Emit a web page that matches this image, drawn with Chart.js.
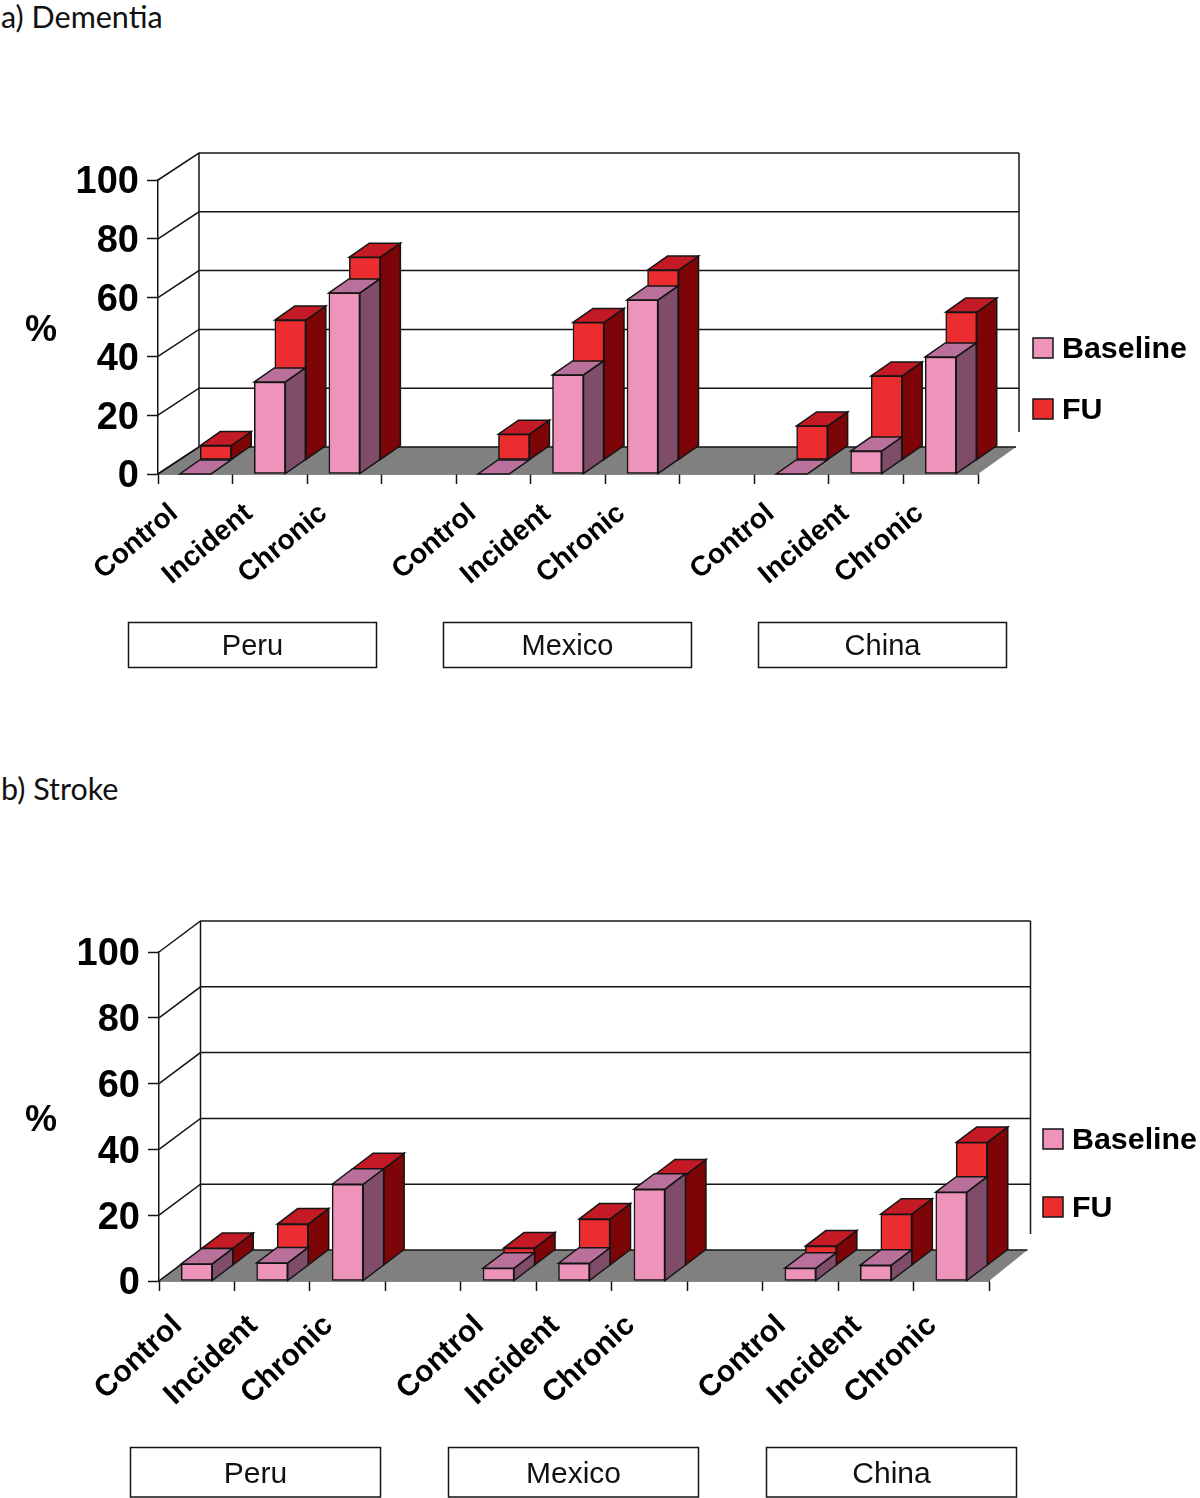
<!DOCTYPE html>
<html><head><meta charset="utf-8">
<script src="https://cdn.jsdelivr.net/npm/chart.js@4"></script>
<style>
html,body{margin:0;padding:0;background:#fff;width:1200px;height:1498px;overflow:hidden}
canvas{position:absolute;left:0;display:block}
.t{position:absolute;left:1px;font:30.5px Lato,sans-serif;color:#111;white-space:nowrap;line-height:34px}
</style></head><body>
<div class="t" style="top:-1px">a) Dementia</div>
<div class="t" style="top:771px">b) Stroke</div>
<canvas id="c1" width="1200" height="720" style="top:0"></canvas>
<canvas id="c2" width="1200" height="728" style="top:770px"></canvas>
<script>
const categories = ['Control','Incident','Chronic','','Control','Incident','Chronic','','Control','Incident','Chronic'];
const groups = ['Peru','Mexico','China'];
const seriesNames = ['Baseline','FU'];
const yTicks = [0,20,40,60,80,100];
const dementiaBaseline = [0,31.3,61.6,null,0,33.7,59.2,null,0,7.8,39.8];
const dementiaFU       = [4.9,47.6,69,null,8.8,46.8,64.6,null,11.6,28.6,50.3];
const strokeBaseline   = [5.2,5.5,29.4,null,3.9,5.4,27.9,null,3.9,4.8,27];
const strokeFU         = [5.2,12.6,29.4,null,5.3,14.1,27.5,null,5.9,15.6,37.4];

const INK='#141414';
const LW=1.5;
const colours={
  Baseline:{front:'#EE94BA',top:'#B9719B',side:'#7F4D69'},
  FU:{front:'#EC2D2F',top:'#C41A25',side:'#7D0508'}
};
Chart.defaults.font.family='"Liberation Sans", Arial, sans-serif';

function poly(ctx,pts,fill,stroke){
  ctx.beginPath();pts.forEach((p,i)=>i?ctx.lineTo(p[0],p[1]):ctx.moveTo(p[0],p[1]));ctx.closePath();
  if(fill){ctx.fillStyle=fill;ctx.fill();}
  if(stroke){ctx.strokeStyle=INK;ctx.lineWidth=LW;ctx.stroke();}
}
const box3d={
  id:'box3d',
  beforeDatasetsDraw(chart,_a,o){
    const {ctx,scales:{x,y}}=chart;ctx.save();
    const b=y.getPixelForValue(0),T=y.getPixelForValue(100),l=x.left,r=x.right,dx=o.wall[0],dy=o.wall[1];
    ctx.strokeStyle=INK;ctx.lineWidth=LW;
    yTicks.forEach(v=>{
      const p=y.getPixelForValue(v);
      ctx.beginPath();ctx.moveTo(l,p);ctx.lineTo(l+dx,p-dy);
      if(v>0)ctx.lineTo(r+dx,p-dy);
      ctx.stroke();
    });
    ctx.beginPath();ctx.moveTo(l+dx,T-dy);ctx.lineTo(l+dx,b-dy);ctx.stroke();
    ctx.beginPath();ctx.moveTo(r+dx,T-dy);ctx.lineTo(r+dx,o.wallEnd-o.top);ctx.stroke();
    ctx.beginPath();ctx.moveTo(l,b);ctx.lineTo(l+dx,b-dy);ctx.lineTo(r+dx-3,b-dy);ctx.lineTo(r,b);ctx.closePath();
    ctx.fillStyle='#808080';ctx.fill();
    ctx.beginPath();ctx.moveTo(l,b);ctx.lineTo(l+dx,b-dy);ctx.lineTo(r+dx-3,b-dy);ctx.stroke();
    ctx.restore();
  },
  beforeDatasetDraw(chart,{index,meta},o){
    const ctx=chart.ctx,ds=chart.data.datasets[index],c=colours[ds.label];
    ctx.save();
    if(ds.label==='FU')ctx.translate(o.shift[0],-o.shift[1]);
    const [dx,dy]=o.depth;
    meta.data.forEach((bar,i)=>{
      if(ds.data[i]==null)return;
      const p=bar.getProps(['x','y','base','width'],true);
      const L=p.x-p.width/2,R=p.x+p.width/2;
      poly(ctx,[[R,p.y],[R+dx,p.y-dy],[R+dx,p.base-dy],[R,p.base]],c.side,true);
      poly(ctx,[[L,p.y],[L+dx,p.y-dy],[R+dx,p.y-dy],[R,p.y]],c.top,true);
    });
  },
  afterDatasetDraw(chart){chart.ctx.restore();},
  afterDraw(chart,_a,o){
    const ctx=chart.ctx,t=o.top;ctx.save();
    ctx.fillStyle='#000';ctx.textBaseline='middle';ctx.textAlign='left';
    ctx.font='bold 36px "Liberation Sans"';
    ctx.fillText('%',o.pct[0],o.pct[1]-t);
    chart.data.datasets.forEach((ds,i)=>{
      const [bx,by]=o.legend[i];
      ctx.fillStyle=ds.backgroundColor;ctx.fillRect(bx,by-t,20,20);
      ctx.strokeStyle=INK;ctx.lineWidth=LW;ctx.strokeRect(bx,by-t,20,20);
      ctx.fillStyle='#000';ctx.font='bold 30.4px "Liberation Sans"';
      ctx.fillText(ds.label,bx+29,by-t+12);
    });
    groups.forEach((g,i)=>{
      const [bx,bw]=o.boxes[i];
      ctx.strokeStyle=INK;ctx.lineWidth=LW;
      ctx.strokeRect(bx,o.boxY[0]-t,bw,o.boxY[1]-o.boxY[0]);
      ctx.fillStyle='#111';ctx.textAlign='center';ctx.font=o.boxFont;
      ctx.fillText(g,bx+bw/2,(o.boxY[0]+o.boxY[1])/2-t+2);
      ctx.textAlign='left';
    });
    ctx.restore();
  }
};
function build(id,base,fu,geo){
  const axisH=geo.height-geo.bottom;
  return new Chart(document.getElementById(id),{
    type:'bar',
    data:{labels:categories,datasets:[
      {label:seriesNames[0],data:base,order:1,backgroundColor:colours.Baseline.front,borderColor:INK,borderWidth:LW,borderSkipped:false,barThickness:31,grouped:false,clip:false},
      {label:seriesNames[1],data:fu,order:2,backgroundColor:colours.FU.front,borderColor:INK,borderWidth:LW,borderSkipped:false,barThickness:31,grouped:false,clip:false}
    ]},
    options:{
      responsive:false,animation:false,events:[],
      layout:{padding:{left:0,right:geo.right,top:geo.plotTop,bottom:0}},
      plugins:{legend:{display:false},tooltip:{enabled:false},title:{display:false},box3d:geo},
      scales:{
        x:{type:'category',offset:true,afterFit(s){s.height=axisH;},
          grid:{offset:true,drawOnChartArea:false,drawTicks:true,tickLength:10,tickColor:INK,tickWidth:LW},
          border:{display:true,color:INK,width:LW},
          ticks:{autoSkip:false,minRotation:geo.rot,maxRotation:geo.rot,padding:geo.xPad,labelOffset:geo.xOff,color:'#000',font:{size:geo.xFont,weight:'bold'}}},
        y:{min:0,max:100,afterFit(s){s.width=geo.left;},
          afterBuildTicks(s){s.ticks=yTicks.map(v=>({value:v}));},
          grid:{drawOnChartArea:false,drawTicks:true,tickLength:11,tickColor:INK,tickWidth:LW},
          border:{display:true,color:INK,width:LW},
          ticks:{padding:8,labelOffset:3,color:'#000',font:{size:38,weight:'bold'}}}
      }
    },
    plugins:[box3d]
  });
}
build('c1',dementiaBaseline,dementiaFU,{
  top:0,height:720,left:158,right:222,plotTop:180,bottom:474,rot:40,xFont:28,
  wall:[41,27],wallEnd:432,depth:[20,14],shift:[20.5,14],xPad:13,xOff:-21,
  pct:[25,331],legend:[[1033,338],[1033,399]],
  boxes:[[128.5,248],[443.5,248],[758.5,248]],boxY:[622.5,667.5],boxFont:'29px "Liberation Sans"'
});
build('c2',strokeBaseline,strokeFU,{
  top:770,height:728,left:159,right:211,plotTop:182,bottom:511,rot:43,xFont:30,
  wall:[41.5,31],wallEnd:1234,depth:[20.5,15.5],shift:[20.5,15.5],xPad:17,xOff:-19,
  pct:[25,1121],legend:[[1043,1129],[1043,1197]],
  boxes:[[130.5,250],[448.5,250],[766.5,250]],boxY:[1447.5,1497],boxFont:'30px "Liberation Sans"'
});
</script>
</body></html>
